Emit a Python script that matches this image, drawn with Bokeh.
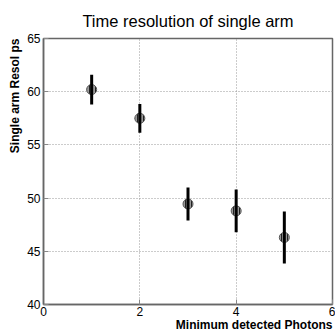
from bokeh.plotting import figure
from bokeh.models import Title, FixedTicker, ColumnDataSource
from bokeh.embed import file_html
from bokeh.resources import INLINE

photons = [1, 2, 3, 4, 5]
resol = [60.2, 57.5, 49.45, 48.8, 46.3]
err = [1.4, 1.35, 1.55, 2.0, 2.45]
x_ticks = [0, 2, 4, 6]
y_ticks = [40, 45, 50, 55, 60, 65]

lo = [r - e for r, e in zip(resol, err)]
hi = [r + e for r, e in zip(resol, err)]
src = ColumnDataSource(dict(x=photons, y=resol, lo=lo, hi=hi))

W, H = 335, 330
BL, BR, BT, BB = 43, 3, 34, 26
p = figure(width=W, height=H, x_range=(0, 6), y_range=(40, 65),
           output_backend="svg", toolbar_location=None,
           min_border_left=BL, min_border_right=BR, min_border_top=BT, min_border_bottom=BB)
p.background_fill_color = "white"
p.border_fill_color = "white"
p.outline_line_color = "#666666"
p.outline_line_width = 1.5

for ax in (p.xaxis, p.yaxis):
    ax.axis_line_color = "#666666"
    ax.axis_line_width = 1.5
    ax.major_tick_in = 5
    ax.major_tick_out = 0
    ax.major_tick_line_color = "#888888"
    ax.minor_tick_line_color = None
    ax.major_label_text_font = "Liberation Sans"
    ax.major_label_text_font_size = "12px"
    ax.major_label_text_color = "black"
p.xaxis.ticker = FixedTicker(ticks=x_ticks)
p.yaxis.ticker = FixedTicker(ticks=y_ticks)
p.xaxis.major_label_standoff = 2
p.yaxis.major_label_standoff = 3

for g in (p.xgrid, p.ygrid):
    g.grid_line_color = "#999999"
    g.grid_line_dash = "1 2"
    g.grid_line_width = 1
p.xgrid.ticker = FixedTicker(ticks=[2, 4])
p.ygrid.ticker = FixedTicker(ticks=[45, 50, 55, 60])

p.scatter(x="x", y="y", source=src, marker="circle", size=10,
          fill_color="#999999", line_color="#555555", line_width=1,
          hatch_pattern="vertical_line", hatch_color="#222222", hatch_scale=3, hatch_weight=1)
p.segment(x0="x", y0="lo", x1="x", y1="hi", source=src, line_color="black", line_width=3)

p.title.text = "Time resolution of single arm"
p.title.align = "center"
p.title.offset = 0
p.title.text_font = "Liberation Sans"
p.title.text_font_size = "16.5px"
p.title.text_font_style = "normal"
p.title.text_color = "black"
p.title.standoff = 18

xt = Title(text="Minimum detected Photons", align="right",
           text_font="Liberation Sans", text_font_size="12px", text_font_style="bold",
           text_color="black", standoff=-6)
p.add_layout(xt, "below")
yt = Title(text="Single arm Resol ps", align="right",
           text_font="Liberation Sans", text_font_size="12px", text_font_style="bold",
           text_color="black", standoff=5)
p.add_layout(yt, "left")

open("out.html", "w").write(file_html(p, INLINE))
